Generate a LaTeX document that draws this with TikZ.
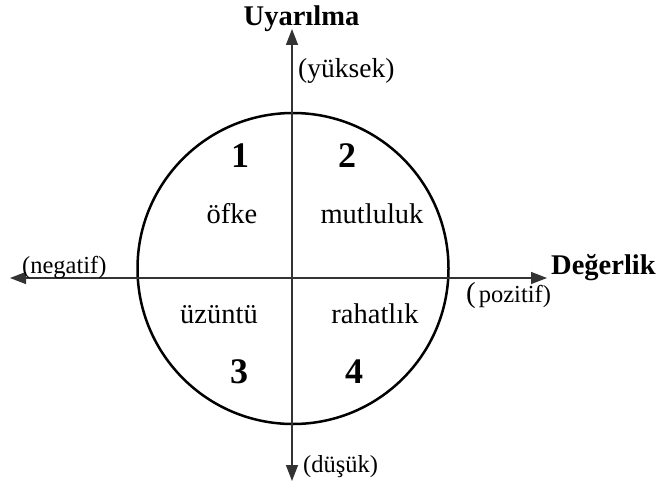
\documentclass[tikz,border=0pt]{standalone}
\usepackage{fontspec}
\setmainfont{Liberation Serif}
\usetikzlibrary{arrows.meta}
\begin{document}
\begin{tikzpicture}[x=1pt,y=-1pt,
  axis/.style={draw=black!80, line width=1.4pt, -{Triangle[length=16pt,width=12pt]}},
  ring/.style={circle, draw, line width=2.5pt, minimum size=311pt, inner sep=0pt},
  title/.style={font=\fontsize{28.5}{30}\selectfont\bfseries, inner sep=0pt, anchor=base},
  digit/.style={font=\fontsize{36}{38}\selectfont\bfseries, inner sep=0pt, anchor=base},
  emo/.style={font=\fontsize{28.5}{30}\selectfont, inner sep=0pt, anchor=base},
  pole/.style={font=\fontsize{24.5}{26}\selectfont, inner sep=0pt, anchor=base west},
]
\useasboundingbox (0,0) rectangle (660,484);

% circle of the emotion model
\node[ring] (c) at (293,268.5) {};

% axis ends
\coordinate (o) at (292,278);
\coordinate (top) at (292,29);
\coordinate (bot) at (292,481);
\coordinate (left) at (10,278);
\coordinate (right) at (547,278);

\draw[axis] (o) -- (top);
\draw[axis] (o) -- (bot);
\draw[axis] (o) -- (left);
\draw[axis] (o) -- (right);

% axis titles
\node[title] (ytitle) at (301.5,26) {Uyarılma};
\node[title, anchor=base west] (xtitle) at (551,274) {Değerlik};

% pole labels
\node[pole, font=\fontsize{27.5}{29}\selectfont] (hi) at (298,78) {(yüksek)};
\node[pole] (lo) at (303,472) {(düşük)};
\node[pole] (neg) at (22,273) {(negatif)};
\node[pole] (pos) at (466,302) {{\fontsize{29}{30}\selectfont(}\hspace{3pt}pozitif)};

% quadrant numbers
\node[digit] (q1) at (240,167) {1};
\node[digit] (q2) at (347,167) {2};
\node[digit] (q3) at (239,383) {3};
\node[digit] (q4) at (354,383) {4};

% quadrant emotions
\node[emo] (e1) at (232,223) {öfke};
\node[emo] (e2) at (372,223) {mutluluk};
\node[emo] (e3) at (219,323) {üzüntü};
\node[emo] (e4) at (375,323) {rahatlık};
\end{tikzpicture}
\end{document}
